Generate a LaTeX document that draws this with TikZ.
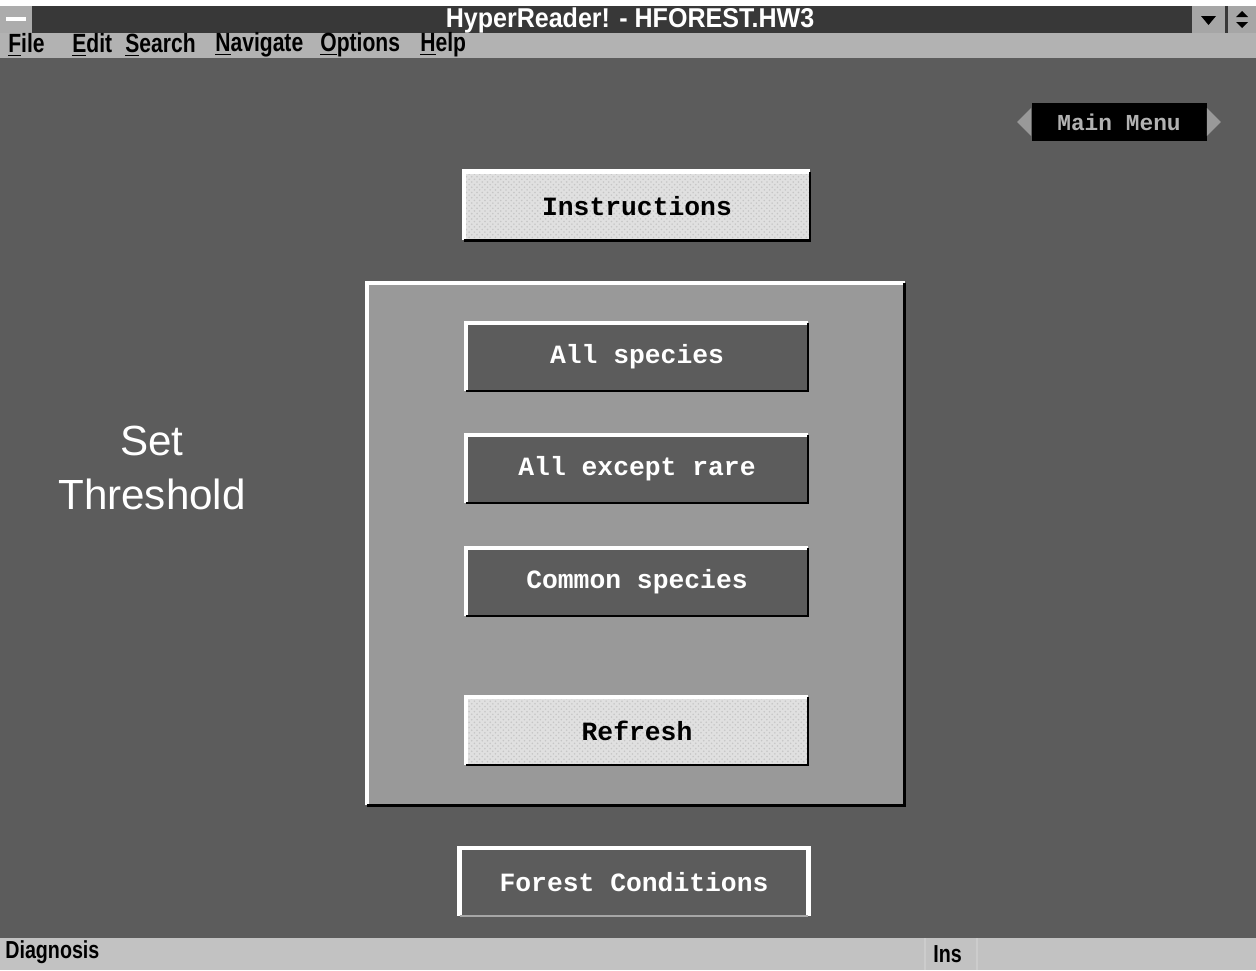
\documentclass[tikz,border=0pt]{standalone}
\usepackage{fontspec}
\setmainfont{Liberation Serif}
\setsansfont{Liberation Sans}
\setmonofont{Liberation Mono}
\usetikzlibrary{patterns}

\definecolor{deskgray}{gray}{0.36}
\definecolor{titlegray}{gray}{0.22}
\definecolor{menugray}{gray}{0.70}
\definecolor{panelgray}{gray}{0.60}
\definecolor{btngray}{gray}{0.36}
\definecolor{lightgray}{gray}{0.88}
\definecolor{statusgray}{gray}{0.76}

\tikzset{
  btn/.style={minimum width=6.82cm, minimum height=1.34cm, inner sep=0pt,
    font=\ttfamily\bfseries\fontsize{15}{18}\selectfont},
  darkbtn/.style={btn, fill=btngray, text=white},
  lightbtn/.style={btn, fill=lightgray, text=black,
    postaction={pattern=crosshatch dots, pattern color=gray!45}},
  menuitem/.style={anchor=west, inner sep=0pt, font=\sffamily\bfseries\fontsize{15}{17}\selectfont},
  statustext/.style={anchor=west, inner sep=0pt, font=\sffamily\bfseries\fontsize{14}{16}\selectfont}
}

% condensed text, as in the old system font
\newcommand{\narrowtext}[1]{\scalebox{0.8}[1]{#1}}

% white edge on top and left, dark edge on bottom and right
\newcommand{\bevel}[1]{%
  \draw[white, line width=2.5pt] (#1.south west) -- (#1.north west) -- (#1.north east);
  \draw[black, line width=1.5pt] (#1.north east) -- (#1.south east) -- (#1.south west);}

\begin{document}
\begin{tikzpicture}[x=0.02cm, y=-0.02cm]
    \useasboundingbox (0,0) rectangle (1256,970);
    \fill[white] (0,0) rectangle (1256,970);

    % Title bar
    \fill[titlegray] (0,6) rectangle (1256,33);
    \fill[gray!65] (0,6) rectangle (32,33);
    \draw[white, line width=2pt] (6,19) -- (26,19);
    \fill[gray!70] (1192,6) rectangle (1225,33);
    \fill[gray!70] (1228,6) rectangle (1256,33);
    \fill[black] (1201,16) -- (1216,16) -- (1208.5,25) -- cycle;
    \fill[black] (1236,17) -- (1248,17) -- (1242,11) -- cycle;
    \fill[black] (1236,22) -- (1248,22) -- (1242,28) -- cycle;
    \node[text=white, font=\sffamily\bfseries\fontsize{15.5}{18}\selectfont] (title) at (630,20) {\scalebox{0.92}[1]{HyperReader! - HFOREST.HW3}};

    % Menu bar
    \fill[menugray] (0,33) rectangle (1256,58);
    \node[menuitem] (mfile) at (8,45) {\narrowtext{\underline{F}ile}};
    \node[menuitem] (medit) at (72,45) {\narrowtext{\underline{E}dit}};
    \node[menuitem] (msearch) at (125,45) {\narrowtext{\underline{S}earch}};
    \node[menuitem] (mnavigate) at (215,45) {\narrowtext{\underline{N}avigate}};
    \node[menuitem] (moptions) at (320,45) {\narrowtext{\underline{O}ptions}};
    \node[menuitem] (mhelp) at (420,45) {\narrowtext{\underline{H}elp}};

    % Desktop
    \fill[deskgray] (0,58) rectangle (1256,938);

    % Main Menu button
    \node[fill=black, text=gray!60, minimum width=3.5cm, minimum height=0.76cm, inner sep=0pt,
      font=\ttfamily\bfseries\fontsize{13}{15}\selectfont] (mainmenu) at (1119,122) {Main Menu};
    \fill[gray!80] (mainmenu.west) ++(0,-14) -- ++(-14,14) -- ++(14,14) -- cycle;
    \fill[gray!80] (mainmenu.east) ++(0,-14) -- ++(14,14) -- ++(-14,14) -- cycle;

    % Set Threshold
    \node[text=white, align=center, font=\sffamily\fontsize{24}{31}\selectfont] (threshold) at (152,468) {Set\\Threshold};

    % Instructions
    \node[lightbtn, minimum width=6.9cm, minimum height=1.36cm] (instructions) at (637,206) {Instructions};
    \bevel{instructions}

    % Threshold panel
    \node[fill=panelgray, minimum width=10.74cm, minimum height=10.44cm, inner sep=0pt] (panel) at (636,544) {};
    \bevel{panel}

    \node[darkbtn] (allspecies) at (637,357) {All species};
    \bevel{allspecies}
    \node[darkbtn] (allexcept) at (637,469) {All except rare};
    \bevel{allexcept}
    \node[darkbtn] (common) at (637,582) {Common species};
    \bevel{common}
    \node[lightbtn] (refresh) at (637,731) {Refresh};
    \bevel{refresh}

    % Forest Conditions
    \node[darkbtn, minimum width=6.96cm] (forest) at (634,882) {Forest Conditions};
    \draw[white, line width=2.5pt] (forest.south west) -- (forest.north west) -- (forest.north east) -- (forest.south east);
    \draw[gray!70, line width=1.5pt] (forest.south west) -- (forest.south east);

    % Status bar
    \fill[statusgray] (0,938) rectangle (1256,970);
    \draw[gray!40, line width=1pt] (925,938) -- (925,970);
    \draw[gray!40, line width=1pt] (977,938) -- (977,970);
    \node[statustext] (diagnosis) at (5,952) {\narrowtext{Diagnosis}};
    \node[statustext] (ins) at (933,954) {\narrowtext{Ins}};
\end{tikzpicture}
\end{document}
